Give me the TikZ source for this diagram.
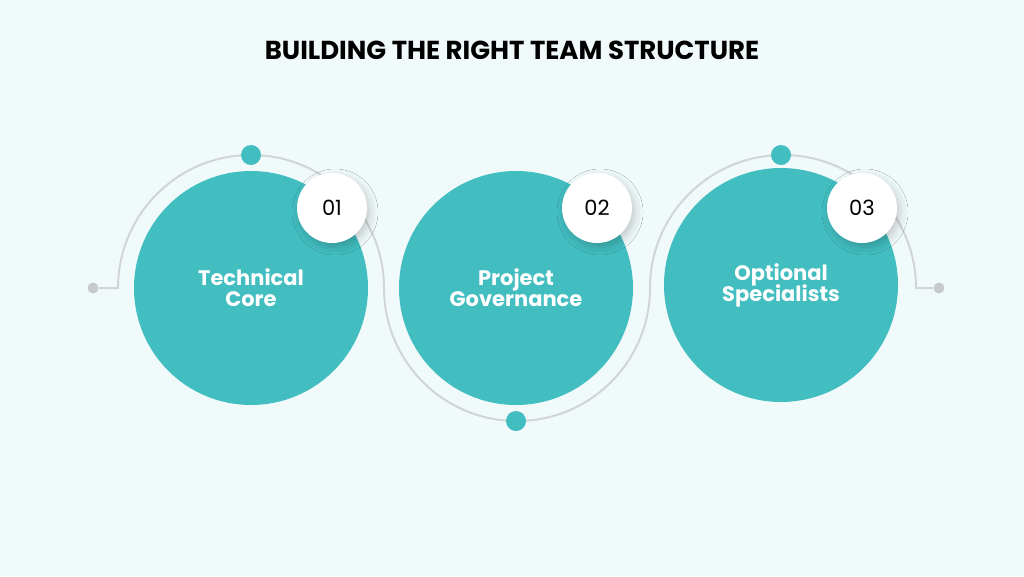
\documentclass[tikz,border=0pt]{standalone}
\usepackage{fontspec}
\setmainfont{Poppins}
\usetikzlibrary{shadows.blur}
\definecolor{bg}{HTML}{F1FAFB}
\definecolor{teal}{HTML}{42BDC0}
\definecolor{arcg}{HTML}{D2D5D6}
\definecolor{dotg}{HTML}{C8CBCC}
\tikzset{
 big/.style={circle,fill=teal,minimum size=234pt,inner sep=0pt,text=white,font=\fontsize{21}{23}\selectfont\bfseries,align=center},
 badge/.style={circle,fill=white,minimum size=70pt,inner sep=0pt,font=\fontsize{21}{23}\selectfont,blur shadow={shadow xshift=3pt,shadow yshift=-4pt,shadow blur radius=8pt,shadow opacity=20}},
 tdot/.style={circle,fill=teal,minimum size=20pt,inner sep=0pt},
 gdot/.style={circle,fill=dotg,minimum size=11pt,inner sep=0pt},
 gline/.style={draw=arcg,line width=2pt}
}
\begin{document}
\begin{tikzpicture}[x=1pt,y=-1pt]
\fill[bg] (0,0) rectangle (1024,576);
\useasboundingbox (0,0) rectangle (1024,576);
\node[font=\fontsize{26}{28}\selectfont\bfseries] (title) at (512,50) {BUILDING THE RIGHT TEAM STRUCTURE};
\coordinate (s) at (118,288);
\node[gdot] (l) at (93,288) {};
\node[gdot] (r) at (939,288) {};
\draw[gline] (l) -- (s) arc[start angle=180,end angle=0,radius=133pt]
  arc[start angle=180,end angle=360,radius=133pt]
  arc[start angle=180,end angle=0,radius=133pt] -- (r);
\node[tdot] (d1) at (251,155) {};
\node[tdot] (d2) at (516,421) {};
\node[tdot] (d3) at (781,155) {};
\node[big] (c1) at (251,288) {Technical\\[-2pt]Core};
\node[big] (c2) at (516,288) {Project\\[-2pt]Governance};
\node[big] (c3) at (781,285) {Optional\\[-2pt]Specialists};
\node[badge] (b1) at (332,208) {01};
\node[badge] (b2) at (597,208) {02};
\node[badge] (b3) at (862,208) {03};
\end{tikzpicture}
\end{document}
